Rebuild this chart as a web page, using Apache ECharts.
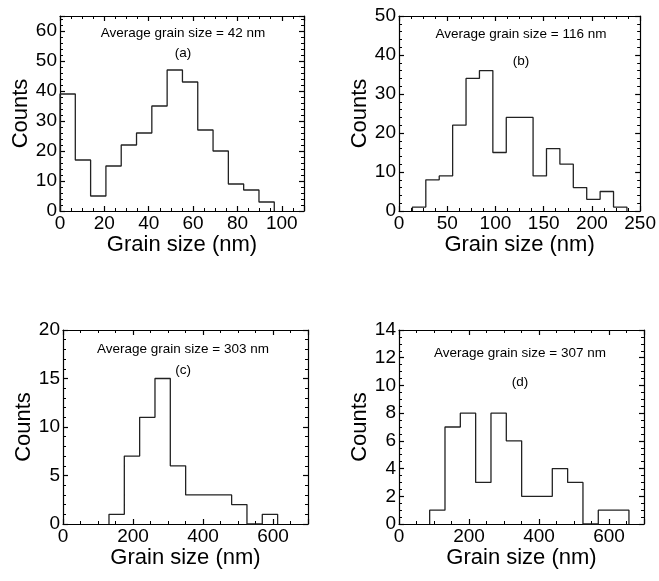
<!DOCTYPE html>
<html><head><meta charset="utf-8">
<script src="https://cdn.jsdelivr.net/npm/echarts@6/dist/echarts.min.js"></script>
<style>html,body{margin:0;padding:0;background:#fff}#c{width:659px;height:581px}</style>
</head><body><div id="c"></div>
<script>
// ---- data ----
const aEdges = [0, 6.9, 13.8, 20.7, 27.6, 34.5, 41.4, 48.3, 55.2, 62.1, 69.0, 75.9, 82.8, 89.7, 96.6];
const aCounts = [39, 17, 5, 15, 22, 26, 35, 47, 43, 27, 20, 9, 7, 3];
const bEdges = [13.9, 27.8, 41.7, 55.6, 69.5, 83.4, 97.3, 111.2, 125.1, 139.0, 152.9, 166.8, 180.7, 194.6, 208.5, 222.4, 236.3];
const bCounts = [1, 8, 9, 22, 34, 36, 15, 24, 24, 9, 16, 12, 6, 3, 5, 1];
const cEdges = [131.4, 175.2, 219.0, 262.8, 306.6, 350.4, 394.2, 438.0, 481.8, 525.6, 569.4, 613.2];
const cCounts = [1, 7, 11, 15, 6, 3, 3, 3, 2, 0, 1];
const dEdges = [87.6, 131.4, 175.2, 219.0, 262.8, 306.6, 350.4, 394.2, 438.0, 481.8, 525.6, 569.4, 613.2, 657.0];
const dCounts = [1, 7, 8, 3, 8, 6, 2, 2, 4, 3, 0, 1, 1];
const labels = ['Average grain size = 42 nm', 'Average grain size = 116 nm', 'Average grain size = 303 nm', 'Average grain size = 307 nm'];
const tags = ['(a)', '(b)', '(c)', '(d)'];
const xRanges = [[0, 110], [0, 250], [0, 700], [0, 700]];
const yRanges = [[0, 65], [0, 50], [0, 20], [0, 14]];
// [major interval, minor splits, show max label]
const xTicks = [[20, 4, false], [50, 4, true], [200, 4, false], [200, 4, false]];
const yTicks = [[10, 5, false], [10, 5, true], [5, 5, true], [2, 4, true]];

// ---- layout ----
const FONT = 'Liberation Sans';
const layout = [
  {grid: {left: 60, top: 16, width: 244, height: 195}, tx: 183, ty: 33, gy: 53},
  {grid: {left: 399, top: 16, width: 245, height: 195}, tx: 521, ty: 34, gy: 61},
  {grid: {left: 63, top: 330, width: 245, height: 194}, tx: 183, ty: 349, gy: 370},
  {grid: {left: 399, top: 330, width: 245, height: 194}, tx: 520, ty: 353, gy: 382}
];
const panels = [[aEdges, aCounts], [bEdges, bCounts], [cEdges, cCounts], [dEdges, dCounts]];

const xAxes = [], yAxes = [], grids = [], series = [], graphics = [];

function mkAxis(dim, gi, range, t, pos, primary) {
  const ax = {
    type: 'value', gridIndex: gi, position: pos,
    min: range[0], max: range[1], interval: t[0],
    splitLine: {show: false},
    axisLine: {onZero: false, lineStyle: {color: '#000', width: 1.2}},
    axisTick: {inside: true, length: 5, lineStyle: {color: '#000', width: 1.2}},
    minorTick: {show: true, splitNumber: t[1], length: 3, lineStyle: {color: '#000', width: 1}},
    axisLabel: {show: primary, margin: 3, color: '#000', fontSize: 19, fontFamily: FONT, showMaxLabel: t[2]}
  };
  if (primary) {
    ax.name = dim === 'x' ? 'Grain size (nm)' : 'Counts';
    ax.nameLocation = 'middle';
    ax.nameGap = dim === 'x' ? 20 : 27;
    ax.nameTextStyle = {color: '#000', fontSize: 22, fontFamily: FONT};
  }
  return ax;
}

panels.forEach((pd, gi) => {
  const L = layout[gi];
  grids.push(L.grid);
  const xi = xAxes.length, yi = yAxes.length;
  xAxes.push(mkAxis('x', gi, xRanges[gi], xTicks[gi], 'bottom', true));
  xAxes.push(mkAxis('x', gi, xRanges[gi], xTicks[gi], 'top', false));
  yAxes.push(mkAxis('y', gi, yRanges[gi], yTicks[gi], 'left', true));
  yAxes.push(mkAxis('y', gi, yRanges[gi], yTicks[gi], 'right', false));
  const edges = pd[0], counts = pd[1];
  const data = [[edges[0], 0]];
  counts.forEach((c, i) => data.push([edges[i], c]));
  data.push([edges[edges.length - 1], 0]);
  series.push({
    type: 'line', xAxisIndex: xi, yAxisIndex: yi, step: 'end', symbol: 'none',
    lineStyle: {color: '#222', width: 1.3}, data: data
  });
  graphics.push({type: 'text', x: L.tx, y: L.ty, style: {text: labels[gi], fill: '#000', font: '13.5px ' + FONT, align: 'center', verticalAlign: 'middle', textAlign: 'center', textVerticalAlign: 'middle'}});
  graphics.push({type: 'text', x: L.tx, y: L.gy, style: {text: tags[gi], fill: '#000', font: '13.5px ' + FONT, align: 'center', verticalAlign: 'middle', textAlign: 'center', textVerticalAlign: 'middle'}});
});

const chart = echarts.init(document.getElementById('c'));
chart.setOption({
  animation: false,
  grid: grids, xAxis: xAxes, yAxis: yAxes, series: series, graphic: graphics
});
</script>
</body></html>
